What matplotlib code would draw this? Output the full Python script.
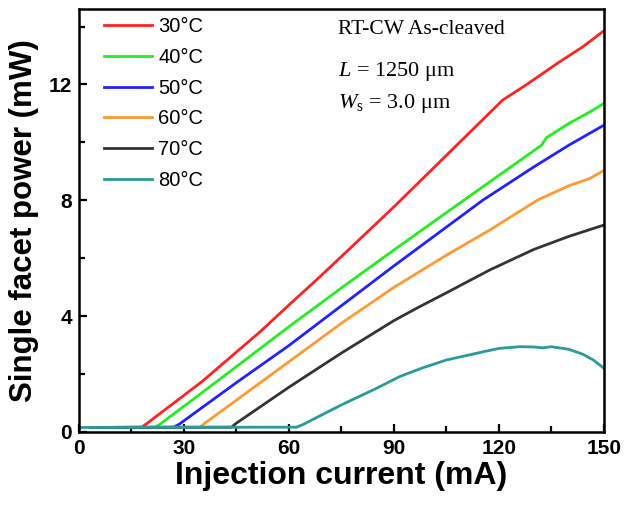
import matplotlib
matplotlib.use("Agg")
import matplotlib.pyplot as plt
from matplotlib.ticker import MultipleLocator

plt.rcParams['mathtext.fontset'] = 'custom'
plt.rcParams['mathtext.rm'] = 'Liberation Serif'
plt.rcParams['mathtext.it'] = 'Liberation Serif:italic'

labels = ['30\u00b0C', '40\u00b0C', '50\u00b0C', '60\u00b0C', '70\u00b0C', '80\u00b0C']
colors = ['#ff2222', '#22ee22', '#2222ff', '#ff9a33', '#333333', '#2a9a9a']

i30 = [3.5, 17.9, 19, 35, 51.7, 60, 68.9, 81.7, 90, 105, 121, 128, 137, 144, 150]
p30 = [0.15, 0.16, 0.25, 1.72, 3.45, 4.38, 5.36, 6.82, 7.77, 9.55, 11.45, 12.0, 12.75, 13.3, 13.85]

i40 = [3.5, 21.7, 23, 34.6, 60, 75, 90, 110, 132.2, 133.6, 140, 146, 150]
p40 = [0.15, 0.16, 0.25, 1.3, 3.63, 4.97, 6.28, 8.0, 9.9, 10.16, 10.65, 11.05, 11.34]

i50 = [3.5, 27, 28.5, 45, 60, 90, 115.4, 130, 140, 150]
p50 = [0.15, 0.16, 0.25, 1.7, 2.98, 5.73, 8.0, 9.15, 9.9, 10.59]

i60 = [3.5, 34.6, 36, 60, 75, 90, 105, 117.4, 131, 140, 146, 150]
p60 = [0.15, 0.16, 0.3, 2.42, 3.75, 4.99, 6.1, 6.97, 8.0, 8.5, 8.75, 9.03]

i70 = [3.5, 43.6, 45, 60, 75, 90, 97, 105, 117.4, 130, 140, 150]
p70 = [0.15, 0.16, 0.3, 1.54, 2.72, 3.84, 4.3, 4.8, 5.59, 6.3, 6.75, 7.14]

i80 = [0, 62.2, 64, 75, 85, 91.7, 98, 105, 115, 120, 126, 130, 132.6, 135, 140, 144, 147, 150]
p80 = [0.15, 0.16, 0.25, 0.93, 1.5, 1.91, 2.2, 2.48, 2.75, 2.88, 2.94, 2.93, 2.9, 2.94, 2.85, 2.68, 2.48, 2.2]

currents = [i30, i40, i50, i60, i70, i80]
powers = [p30, p40, p50, p60, p70, p80]

fig = plt.figure(figsize=(6.27, 5.08), dpi=100)
ax = fig.add_axes([0.126, 0.150, 0.837, 0.832])

for x, y, c, l in zip(currents, powers, colors, labels):
    ax.plot(x, y, color=c, lw=2.0, label=l)

ax.set_xlim(0, 150)
ax.set_ylim(0, 14.6)
ax.xaxis.set_major_locator(MultipleLocator(30))
ax.xaxis.set_minor_locator(MultipleLocator(15))
ax.yaxis.set_major_locator(MultipleLocator(4))
ax.yaxis.set_minor_locator(MultipleLocator(2))
ax.tick_params(which='both', direction='in', width=1.6, top=False, right=False)
ax.tick_params(which='major', length=6, labelsize=15, pad=5)
ax.tick_params(which='minor', length=4)
for s in ax.spines.values():
    s.set_linewidth(1.8)
for lab in ax.get_xticklabels() + ax.get_yticklabels():
    lab.set_fontweight('bold')
    lab.set_family('Liberation Sans')

ax.set_xlabel('Injection current (mA)', fontsize=23, fontweight='bold', family='Liberation Sans', labelpad=2)
ax.set_ylabel('Single facet power (mW)', fontsize=22.5, fontweight='bold', family='Liberation Sans', labelpad=7)

leg = ax.legend(loc='upper left', frameon=False, prop={'family': 'Liberation Sans', 'size': 14.5},
                handlelength=2.4, handletextpad=0.3, labelspacing=0.58,
                borderaxespad=0.0, bbox_to_anchor=(0.032, 1.0))

ax.text(0.494, 0.975, 'RT-CW As-cleaved', transform=ax.transAxes, family='Liberation Serif',
        fontsize=15.5, va='top', ha='left')
ax.text(0.494, 0.88, r'$\it{L}$ = 1250 ' + '\u03bcm', transform=ax.transAxes,
        family='Liberation Serif', fontsize=16, va='top', ha='left')
ax.text(0.494, 0.805, r'$\it{W}_{\rm s}$ = 3.0 ' + '\u03bcm', transform=ax.transAxes,
        family='Liberation Serif', fontsize=16, va='top', ha='left')

fig.savefig('out.png', dpi=100)
